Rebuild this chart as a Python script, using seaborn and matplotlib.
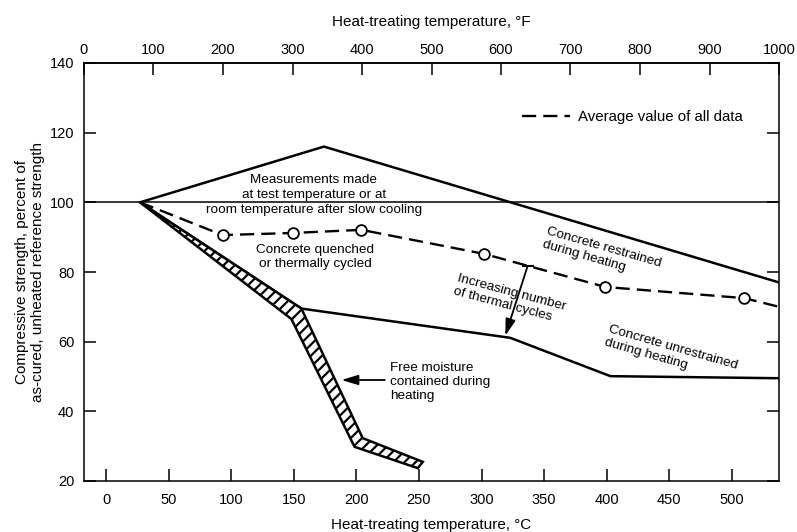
import numpy as np
import pandas as pd
import matplotlib
matplotlib.use("Agg")
import matplotlib.pyplot as plt
import seaborn as sns

# Heat-treating temperature (°C) vs compressive strength (% of unheated reference)
restrained_temp = [27, 174, 537.8]
restrained_strength = [100, 116, 77]

unrestrained_temp = [27, 156, 323, 403, 537.8]
unrestrained_strength = [100, 69.5, 61.1, 50.1, 49.5]

average_temp = [27, 93, 149, 204, 302, 399, 510, 537.8]
average_strength = [100, 90.6, 91.2, 92.1, 85.2, 75.7, 72.5, 70.0]
average_measured = [False, True, True, True, True, True, True, False]

moisture_upper_temp = [27, 156, 205, 253]
moisture_upper_strength = [100, 69.5, 32.3, 25.5]
moisture_lower_temp = [27, 148, 198.5, 249]
moisture_lower_strength = [100, 66.5, 29.8, 23.7]

reference_strength = 100

celsius_ticks = list(range(0, 501, 50))
fahrenheit_ticks = list(range(0, 1001, 100))
strength_ticks = list(range(20, 141, 20))


def c_to_f(c):
    return np.asarray(c, dtype=float) * 9 / 5 + 32


def f_to_c(f):
    return (np.asarray(f, dtype=float) - 32) * 5 / 9


sns.set_theme(style="ticks")
plt.rcParams["font.family"] = ["Liberation Sans", "DejaVu Sans"]
plt.rcParams["text.color"] = "black"
plt.rcParams["axes.labelcolor"] = "black"
plt.rcParams["xtick.color"] = "black"
plt.rcParams["ytick.color"] = "black"
plt.rcParams["axes.edgecolor"] = "black"
plt.rcParams["hatch.linewidth"] = 1.6

fig = plt.figure(figsize=(7.97, 5.32), dpi=100)
ax = fig.add_axes([84 / 797, 1 - 481 / 532, 695 / 797, 418 / 532])

line_kw = dict(color="black", linewidth=1.8, sort=False, estimator=None)

restrained = pd.DataFrame({"temp": restrained_temp, "strength": restrained_strength})
unrestrained = pd.DataFrame({"temp": unrestrained_temp, "strength": unrestrained_strength})
average = pd.DataFrame({"temp": average_temp, "strength": average_strength,
                        "measured": average_measured})

ax.axhline(reference_strength, color="black", linewidth=1.1, zorder=2)

sns.lineplot(data=restrained, x="temp", y="strength", ax=ax, **line_kw)
sns.lineplot(data=unrestrained, x="temp", y="strength", ax=ax, **line_kw)
sns.lineplot(data=average, x="temp", y="strength", ax=ax, color="black",
             linewidth=1.7, sort=False, estimator=None, linestyle=(0, (6, 3)))
avg_line = ax.get_lines()[-1]
sns.scatterplot(data=average[average["measured"]], x="temp", y="strength", ax=ax,
                marker="o", s=60, facecolor="white", edgecolor="black",
                linewidth=1.3, zorder=5)

# free-moisture band (hatched)
band_x = moisture_upper_temp + moisture_lower_temp[::-1]
band_y = moisture_upper_strength + moisture_lower_strength[::-1]
ax.fill(band_x, band_y, facecolor="white", edgecolor="black", hatch="///",
        linewidth=1.8, zorder=3)

ax.set_xlim(f_to_c(0), f_to_c(1000))
ax.set_ylim(20, 140)

ax.set_xticks(celsius_ticks)
ax.set_yticks(strength_ticks)
for s in ax.spines.values():
    s.set_linewidth(1.1)
    s.set_visible(True)
ax.tick_params(axis="both", direction="in", length=8.6, width=1.1, labelsize=10.5)
ax.tick_params(axis="x", top=False, pad=8.5)
ax.tick_params(axis="y", right=True, labelright=False, pad=7)

secax = ax.secondary_xaxis("top", functions=(c_to_f, f_to_c))
secax.set_xticks(fahrenheit_ticks)
secax.tick_params(direction="in", length=8.6, width=1.1, labelsize=10.5, pad=4.5)
secax.spines["top"].set_linewidth(1.1)

ax.set_xlabel("Heat-treating temperature, °C", fontsize=11, labelpad=8)
secax.set_xlabel("Heat-treating temperature, °F", fontsize=11, labelpad=12)
ax.set_ylabel("Compressive strength, percent of\nas-cured, unheated reference strength",
              fontsize=11, labelpad=3.5, linespacing=1.2)

ax.legend(handles=[avg_line], labels=["Average value of all data"], loc="center left",
          bbox_to_anchor=(0.630, 0.871), frameon=False, fontsize=10.8,
          handlelength=3.2, handletextpad=0.55, borderpad=0, borderaxespad=0)

note = dict(fontsize=9.7, color="black")
ax.text(166, 102.1, "Measurements made\nat test temperature or at\nroom temperature after slow cooling",
        ha="center", va="center", linespacing=1.35, **note)
ax.text(167, 84.3, "Concrete quenched\nor thermally cycled",
        ha="center", va="center", linespacing=1.25, **note)
ax.text(350.5, 89.8, "Concrete restrained\nduring heating", rotation=-16,
        rotation_mode="anchor", ha="left", va="center", linespacing=1.2, **note)
ax.text(400, 61.6, "Concrete unrestrained\nduring heating", rotation=-16,
        rotation_mode="anchor", ha="left", va="center", linespacing=1.2, **note)
ax.text(279, 76.3, "Increasing number\nof thermal cycles", rotation=-15,
        rotation_mode="anchor", ha="left", va="center", linespacing=1.2, **note)
ax.text(226.7, 48.4, "Free moisture\ncontained during\nheating",
        ha="left", va="center", linespacing=1.2, **note)

arrow = dict(arrowstyle="-|>,head_length=1.0,head_width=0.3", color="black",
             lw=1.3, shrinkA=0, shrinkB=0, mutation_scale=10)
ax.annotate("", xy=(188, 49), xytext=(222.7, 49), arrowprops=arrow)
ax.annotate("", xy=(319, 61.7), xytext=(336.8, 81.7), arrowprops=arrow)
ax.plot([336.8], [81.7], marker="_", markersize=8, markeredgewidth=1.5, color="black")

fig.savefig("out.png", dpi=100)
